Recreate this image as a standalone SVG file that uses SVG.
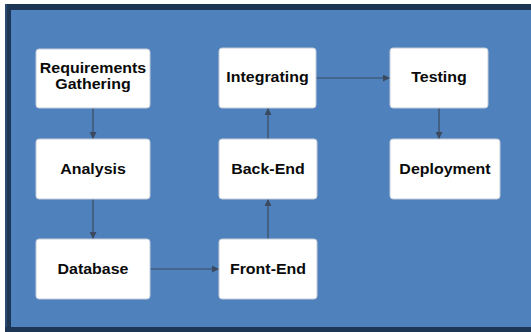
<svg xmlns="http://www.w3.org/2000/svg" width="531" height="332" viewBox="0 0 531 332">
  <style>
    .box { fill: #ffffff; stroke: #c3ccd8; stroke-width: 1; }
    .lbl { font-family: "Liberation Sans", Arial, sans-serif; font-weight: bold; font-size: 14px; fill: #0a0a0a; text-anchor: middle; }
    .edge { stroke: #3b4a5e; stroke-width: 1.2; fill: none; marker-end: url(#arrow); }
  </style>
  <defs>
    <marker id="arrow" viewBox="0 0 10 10" refX="10" refY="5" markerWidth="8" markerHeight="7" markerUnits="userSpaceOnUse" orient="auto">
      <path d="M0,0 L10,5 L0,10 z" fill="#3b4a5e"/>
    </marker>
  </defs>

  <!-- frame -->
  <rect x="0" y="0" width="531" height="332" fill="#ffffff"/>
  <rect x="5" y="4" width="526" height="328" fill="#1e3655"/>
  <rect x="5" y="4" width="2" height="323" fill="#2c4a70"/>
  <rect x="11" y="10" width="520" height="317" fill="#4f81bd"/>

  <!-- connectors -->
  <g id="connectors">
    <line class="edge" x1="93" y1="108" x2="93" y2="139"/>
    <line class="edge" x1="93" y1="199" x2="93" y2="239"/>
    <line class="edge" x1="150" y1="269" x2="219" y2="269"/>
    <line class="edge" x1="268" y1="239" x2="268" y2="199"/>
    <line class="edge" x1="268" y1="139" x2="268" y2="108"/>
    <line class="edge" x1="316" y1="78" x2="390" y2="78"/>
    <line class="edge" x1="439" y1="108" x2="439" y2="139"/>
  </g>

  <!-- labels are drawn slightly wide: scale(1.14, 1) about each label's anchor -->
  <g id="requirements">
    <rect class="box" x="36" y="49" width="114" height="59" rx="3"/>
    <text class="lbl" transform="translate(93 73) scale(1.14 1)">Requirements</text>
    <text class="lbl" transform="translate(93 89) scale(1.14 1)">Gathering</text>
  </g>
  <g id="analysis">
    <rect class="box" x="36" y="139" width="114" height="60" rx="3"/>
    <text class="lbl" transform="translate(93 174) scale(1.14 1)">Analysis</text>
  </g>
  <g id="database">
    <rect class="box" x="36" y="239" width="114" height="60" rx="3"/>
    <text class="lbl" transform="translate(93 274) scale(1.14 1)">Database</text>
  </g>
  <g id="integrating">
    <rect class="box" x="219" y="48" width="97" height="60" rx="3"/>
    <text class="lbl" transform="translate(267.5 82) scale(1.14 1)">Integrating</text>
  </g>
  <g id="backend">
    <rect class="box" x="219" y="139" width="98" height="60" rx="3"/>
    <text class="lbl" transform="translate(268 174) scale(1.14 1)">Back-End</text>
  </g>
  <g id="frontend">
    <rect class="box" x="219" y="239" width="98" height="60" rx="3"/>
    <text class="lbl" transform="translate(268 274) scale(1.14 1)">Front-End</text>
  </g>
  <g id="testing">
    <rect class="box" x="390" y="48" width="98" height="60" rx="3"/>
    <text class="lbl" transform="translate(439 82) scale(1.14 1)">Testing</text>
  </g>
  <g id="deployment">
    <rect class="box" x="390" y="139" width="110" height="60" rx="3"/>
    <text class="lbl" transform="translate(445 174) scale(1.14 1)">Deployment</text>
  </g>
</svg>
